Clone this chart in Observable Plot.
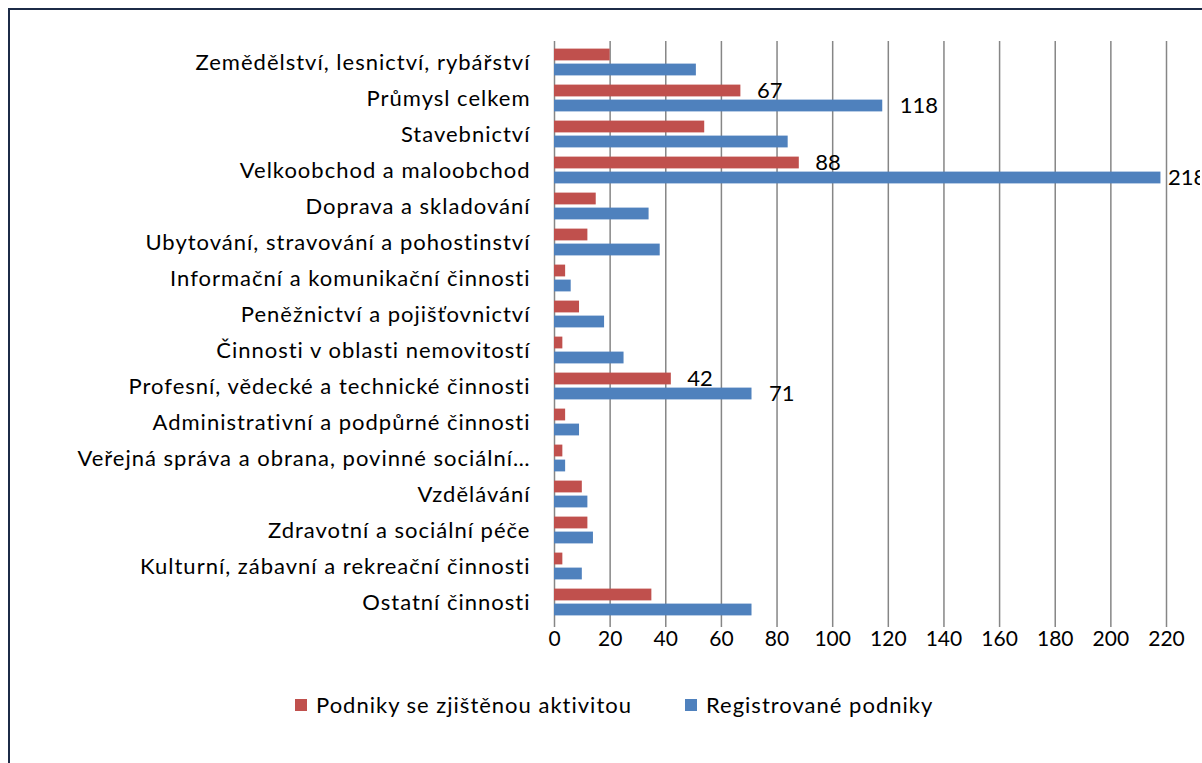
<!DOCTYPE html>
<html>
<head>
<meta charset="utf-8">
<script src="https://cdn.jsdelivr.net/npm/d3@7"></script>
<script src="https://cdn.jsdelivr.net/npm/@observablehq/plot@0.6"></script>
<style>
  html, body { margin: 0; padding: 0; background: #fff; overflow: hidden; }
  body { width: 1202px; height: 763px; position: relative; font-family: Lato, "Open Sans", sans-serif; }
  #frame { position: absolute; left: 8px; top: 8px; width: 1220px; height: 780px; border-left: 2px solid #1c2b47; border-top: 2px solid #1c2b47; box-sizing: border-box; }
  #chart { position: absolute; left: 10px; top: 10px; }
  #chart g[aria-label="y-axis tick label"] text { letter-spacing: 1px; }
  #legend { position: absolute; top: 691px; left: 295px; display: flex; align-items: center; font-size: 22px; letter-spacing: 1px; color: #000; }
  .sw { width: 12px; height: 12px; display: inline-block; margin-right: 9px; }
  .item { display: flex; align-items: center; }
</style>
</head>
<body>
<div id="frame"></div>
<div id="chart"></div>
<div id="legend"></div>
<script>
const categories = [
  "Zemědělství, lesnictví, rybářství",
  "Průmysl celkem",
  "Stavebnictví",
  "Velkoobchod a maloobchod",
  "Doprava a skladování",
  "Ubytování, stravování a pohostinství",
  "Informační a komunikační činnosti",
  "Peněžnictví a pojišťovnictví",
  "Činnosti v oblasti nemovitostí",
  "Profesní, vědecké a technické činnosti",
  "Administrativní a podpůrné činnosti",
  "Veřejná správa a obrana, povinné sociální…",
  "Vzdělávání",
  "Zdravotní a sociální péče",
  "Kulturní, zábavní a rekreační činnosti",
  "Ostatní činnosti"
];
const seriesNames = ["Podniky se zjištěnou aktivitou", "Registrované podniky"];
const activeValues =     [20, 67, 54, 88, 15, 12, 4, 9, 3, 42, 4, 3, 10, 12, 3, 35];
const registeredValues = [51, 118, 84, 218, 34, 38, 6, 18, 25, 71, 9, 4, 12, 14, 10, 71];
const labeledCategories = ["Průmysl celkem", "Velkoobchod a maloobchod", "Profesní, vědecké a technické činnosti"];
const xTicks = [0, 20, 40, 60, 80, 100, 120, 140, 160, 180, 200, 220];
const colors = ["#C0504D", "#4F81BD"];

const active = categories.map((c, i) => ({category: c, value: activeValues[i], series: seriesNames[0]}));
const registered = categories.map((c, i) => ({category: c, value: registeredValues[i], series: seriesNames[1]}));
const maxVal = d3.max(registeredValues);

const font = "Lato, 'Open Sans', sans-serif";

const chart = Plot.plot({
  width: 1190,
  height: 670,
  marginLeft: 544,
  marginRight: 34,
  marginTop: 31,
  marginBottom: 58,
  style: {fontFamily: font, background: "transparent", color: "#000"},
  x: {domain: [0, 220]},
  y: {domain: categories, padding: 0},
  marks: [
    Plot.gridX(xTicks, {stroke: "#868686", strokeOpacity: 1, strokeWidth: 1.5}),
    Plot.barX(active, {y: "category", x: "value", fill: colors[0], insetTop: 4.6, insetBottom: 19.6}),
    Plot.barX(registered, {y: "category", x: "value", fill: colors[1], insetTop: 19.6, insetBottom: 4.6}),
    Plot.text(active.filter(d => labeledCategories.includes(d.category)), {
      y: "category", x: "value", text: d => String(d.value), dx: 16, dy: -7.5,
      textAnchor: "start", fontSize: 22, fill: "#000"
    }),
    Plot.text(registered.filter(d => labeledCategories.includes(d.category) && d.value !== maxVal), {
      y: "category", x: "value", text: d => String(d.value), dx: 17, dy: 7.5,
      textAnchor: "start", fontSize: 22, fill: "#000"
    }),
    Plot.text(registered.filter(d => d.value === maxVal), {
      y: "category", x: "value", text: d => String(d.value), dx: 7, dy: 7.5,
      textAnchor: "start", fontSize: 22, fill: "#000"
    }),
    Plot.axisX(xTicks, {tickSize: 5, tickPadding: 4, stroke: "#868686", strokeWidth: 1.5, fontSize: 21, label: null}),
    Plot.axisY({tickSize: 0, tickPadding: 24, fontSize: 22, label: null})
  ]
});
document.getElementById("chart").appendChild(chart);

const legend = document.getElementById("legend");
seriesNames.forEach((name, i) => {
  const item = document.createElement("div");
  item.className = "item";
  item.style.marginRight = i === 0 ? "53px" : "0";
  const sw = document.createElement("span");
  sw.className = "sw";
  sw.style.background = colors[i];
  item.appendChild(sw);
  const t = document.createElement("span");
  t.textContent = name;
  item.appendChild(t);
  legend.appendChild(item);
});
</script>
</body>
</html>
